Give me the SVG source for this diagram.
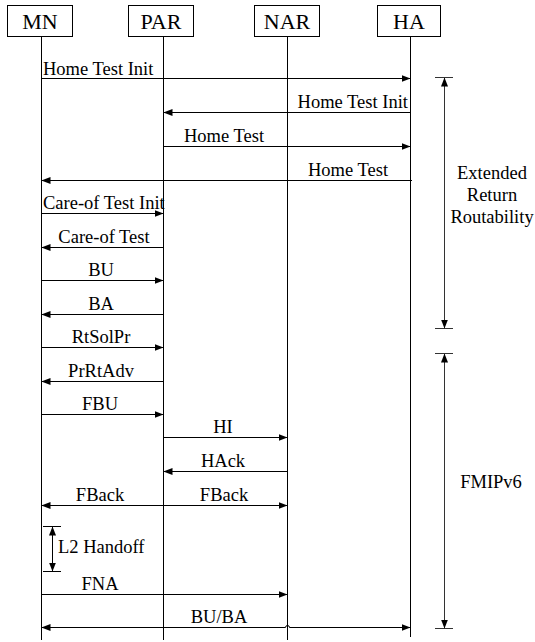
<svg xmlns="http://www.w3.org/2000/svg" width="535" height="642" viewBox="0 0 535 642">
<defs>
<style>
text{font-family:"Liberation Serif","Times New Roman","DejaVu Serif",serif;fill:#000}
.box{fill:#fff;stroke:#000;stroke-width:1}
.bt{font-size:22px;text-anchor:middle}
.life{stroke:#000;stroke-width:1}
.msg{stroke:#000;stroke-width:1;fill:none}
.lb{font-size:18.5px}
.c{text-anchor:middle}
.e{text-anchor:end}
.br{stroke:#333;stroke-width:1;fill:none}
</style>
<marker id="ah" viewBox="0 0 9 7" refX="9" refY="3.5" markerWidth="9" markerHeight="7" markerUnits="userSpaceOnUse" orient="auto-start-reverse">
<path d="M0,0 L9,3.5 L0,7 Z" fill="#000"/>
</marker>
</defs>
<rect width="535" height="642" fill="#fff"/>

<g id="MN">
<line class="life" x1="41.5" y1="36" x2="41.5" y2="640"/>
<rect class="box" x="7.5" y="5.5" width="65" height="31"/>
<text class="bt" x="40" y="29" font-family="Liberation Serif, serif">MN</text>
</g>
<g id="PAR">
<line class="life" x1="163.5" y1="36" x2="163.5" y2="640"/>
<rect class="box" x="128.5" y="5.5" width="65" height="31"/>
<text class="bt" x="161" y="29" font-family="Liberation Serif, serif">PAR</text>
</g>
<g id="NAR">
<line class="life" x1="287.5" y1="36" x2="287.5" y2="640"/>
<rect class="box" x="254.5" y="5.5" width="65" height="31"/>
<text class="bt" x="287" y="29" font-family="Liberation Serif, serif">NAR</text>
</g>
<g id="HA">
<line class="life" x1="410.5" y1="36" x2="410.5" y2="637"/>
<rect class="box" x="377.5" y="5.5" width="63" height="31"/>
<text class="bt" x="409" y="29" font-family="Liberation Serif, serif">HA</text>
</g>

<g id="connectors">
<line class="msg" x1="41.5" y1="78.5" x2="410.5" y2="78.5" marker-end="url(#ah)"/>
<line class="msg" x1="410.5" y1="112.5" x2="163.5" y2="112.5" marker-end="url(#ah)"/>
<line class="msg" x1="163.5" y1="146.5" x2="410.5" y2="146.5" marker-end="url(#ah)"/>
<line class="msg" x1="412" y1="180.5" x2="41.5" y2="180.5" marker-end="url(#ah)"/>
<line class="msg" x1="41.5" y1="213.5" x2="163.5" y2="213.5" marker-end="url(#ah)"/>
<line class="msg" x1="163.5" y1="247.5" x2="41.5" y2="247.5" marker-end="url(#ah)"/>
<line class="msg" x1="41.5" y1="280.5" x2="163.5" y2="280.5" marker-end="url(#ah)"/>
<line class="msg" x1="163.5" y1="314.5" x2="41.5" y2="314.5" marker-end="url(#ah)"/>
<line class="msg" x1="41.5" y1="347.5" x2="163.5" y2="347.5" marker-end="url(#ah)"/>
<line class="msg" x1="163.5" y1="381.5" x2="41.5" y2="381.5" marker-end="url(#ah)"/>
<line class="msg" x1="41.5" y1="414.5" x2="163.5" y2="414.5" marker-end="url(#ah)"/>
<line class="msg" x1="163.5" y1="437.5" x2="287.5" y2="437.5" marker-end="url(#ah)"/>
<line class="msg" x1="287.5" y1="471.5" x2="163.5" y2="471.5" marker-end="url(#ah)"/>
<line class="msg" x1="41.5" y1="505.5" x2="287.5" y2="505.5" marker-start="url(#ah)" marker-end="url(#ah)"/>
<line class="msg" x1="41.5" y1="594.5" x2="287.5" y2="594.5" marker-end="url(#ah)"/>
<path class="msg" d="M41.5,627.5 H285.5 A2,2 0 0 1 289.5,627.5 H410.5" marker-start="url(#ah)" marker-end="url(#ah)"/>
</g>

<g id="labels" font-family="Liberation Serif, serif">
<text class="lb" x="43" y="75">Home Test Init</text>
<text class="lb e" x="408" y="108">Home Test Init</text>
<text class="lb c" x="224" y="142">Home Test</text>
<text class="lb c" x="348" y="176">Home Test</text>
<text class="lb" x="43" y="209">Care-of Test Init</text>
<text class="lb c" x="104" y="243">Care-of Test</text>
<text class="lb c" x="101" y="276">BU</text>
<text class="lb c" x="101" y="310">BA</text>
<text class="lb c" x="101" y="343">RtSolPr</text>
<text class="lb c" x="101" y="377">PrRtAdv</text>
<text class="lb c" x="100" y="410">FBU</text>
<text class="lb c" x="223" y="433">HI</text>
<text class="lb c" x="223" y="467">HAck</text>
<text class="lb c" x="100" y="501">FBack</text>
<text class="lb c" x="224" y="501">FBack</text>
<text class="lb" x="58" y="553">L2 Handoff</text>
<text class="lb c" x="100" y="590">FNA</text>
<text class="lb c" x="219" y="623">BU/BA</text>
</g>

<g id="l2handoff">
<line class="msg" x1="43" y1="526.5" x2="61" y2="526.5"/>
<line class="msg" x1="43" y1="571.5" x2="61" y2="571.5"/>
<line class="msg" x1="52.5" y1="526.5" x2="52.5" y2="571.5" marker-start="url(#ah)" marker-end="url(#ah)"/>
</g>

<g id="err" font-family="Liberation Serif, serif">
<line class="br" x1="435" y1="77.5" x2="453" y2="77.5"/>
<line class="br" x1="435" y1="328.5" x2="453" y2="328.5"/>
<line class="br" x1="444.5" y1="77.5" x2="444.5" y2="328.5" marker-start="url(#ah)" marker-end="url(#ah)"/>
<text class="lb c" x="492" y="179">Extended</text>
<text class="lb c" x="492" y="201">Return</text>
<text class="lb c" x="492" y="223">Routability</text>
</g>

<g id="fmip" font-family="Liberation Serif, serif">
<line class="br" x1="435" y1="353.5" x2="453" y2="353.5"/>
<line class="br" x1="435" y1="628.5" x2="453" y2="628.5"/>
<line class="br" x1="444.5" y1="353.5" x2="444.5" y2="628.5" marker-start="url(#ah)" marker-end="url(#ah)"/>
<text class="lb c" x="491" y="488">FMIPv6</text>
</g>
</svg>
